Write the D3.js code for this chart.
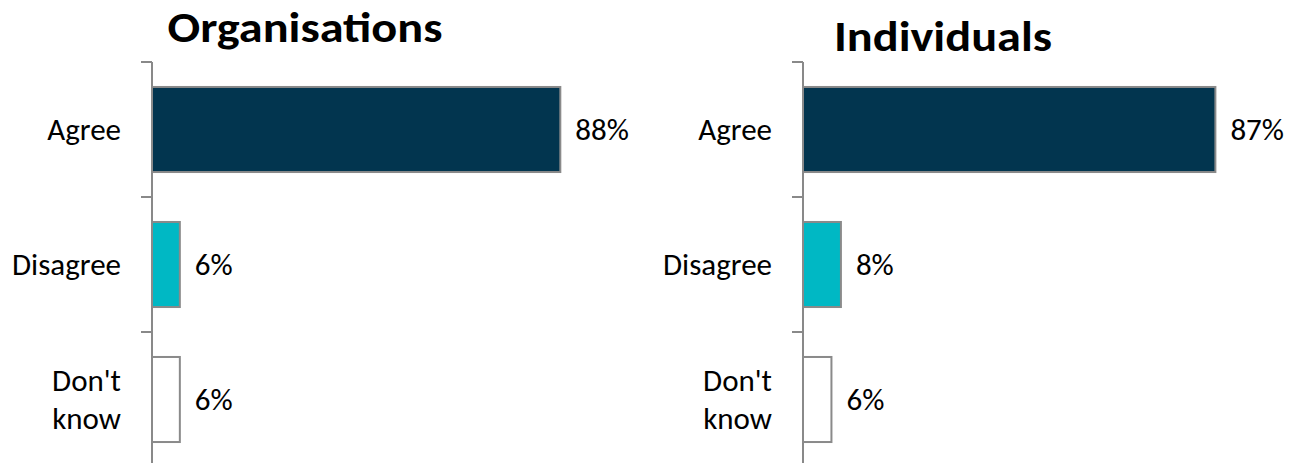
<!DOCTYPE html>
<html>
<head>
<meta charset="utf-8">
<script src="https://cdn.jsdelivr.net/npm/d3@7"></script>
<style>
  html, body { margin: 0; padding: 0; background: #fff; }
  svg text { font-family: Carlito, Calibri, "Open Sans", sans-serif; fill: #000; }
</style>
</head>
<body>
<svg id="chart" width="1303" height="463"></svg>
<script>
// Survey responses, share of respondents (%)
const categories = ["Agree", "Disagree", "Don't know"];
const organisationsValues = [88, 6, 6];
const individualsValues = [87, 8, 6];
const panelTitles = ["Organisations", "Individuals"];
const barColors = ["#02354F", "#00B8C4", "#FFFFFF"];

const svg = d3.select("#chart");

const panels = [
  { title: panelTitles[0], values: organisationsValues, x0: 152, width: 464, titleX: 305, titleY: 42 },
  { title: panelTitles[1], values: individualsValues, x0: 803, width: 474, titleX: 943, titleY: 51 }
];

panels.forEach(p => {
  const g = svg.append("g");

  const x = d3.scaleLinear().domain([0, 100]).range([p.x0, p.x0 + p.width]);
  const y = d3.scaleBand().domain(categories).range([62, 467]).paddingInner(0.37).paddingOuter(0.185);

  // category axis with outer ticks between bands
  const axisG = g.append("g").attr("transform", `translate(${p.x0},0)`);
  axisG.append("line")
    .attr("x1", 0).attr("x2", 0)
    .attr("y1", y.range()[0]).attr("y2", y.range()[1])
    .attr("stroke", "#898989").attr("stroke-width", 2);
  const bounds = d3.range(categories.length + 1).map(i => y.range()[0] + i * (y.range()[1] - y.range()[0]) / categories.length);
  axisG.selectAll("line.tick").data(bounds).join("line")
    .attr("class", "tick")
    .attr("x1", -11).attr("x2", 0)
    .attr("y1", d => d).attr("y2", d => d)
    .attr("stroke", "#898989").attr("stroke-width", 2);

  // bars
  g.selectAll("rect.bar").data(p.values).join("rect")
    .attr("class", "bar")
    .attr("x", x(0))
    .attr("y", (d, i) => y(categories[i]))
    .attr("width", d => x(d) - x(0))
    .attr("height", y.bandwidth())
    .attr("fill", (d, i) => barColors[i])
    .attr("stroke", "#8a8a8a")
    .attr("stroke-width", 2);

  // value labels
  g.selectAll("text.value").data(p.values).join("text")
    .attr("class", "value")
    .attr("x", d => x(d) + 15)
    .attr("y", (d, i) => y(categories[i]) + y.bandwidth() / 2)
    .attr("dy", "0.35em")
    .attr("font-size", 31)
    .text(d => d + "%");

  // category labels (multi-line where needed)
  const labelLines = { "Don't know": ["Don't", "know"] };
  categories.forEach(c => {
    const lines = labelLines[c] || [c];
    const cy = y(c) + y.bandwidth() / 2;
    const lh = 38;
    const t = g.append("text")
      .attr("text-anchor", "end")
      .attr("font-size", 31);
    lines.forEach((ln, k) => {
      t.append("tspan")
        .attr("x", p.x0 - 31)
        .attr("y", cy + (k - (lines.length - 1) / 2) * lh)
        .attr("dy", "0.35em")
        .text(ln);
    });
  });

  // panel title, slightly widened bold heading
  g.append("text")
    .attr("transform", `translate(${p.titleX},${p.titleY}) scale(1.15,1)`)
    .attr("text-anchor", "middle")
    .attr("font-size", 42)
    .attr("font-weight", "bold")
    .text(p.title);
});
</script>
</body>
</html>
